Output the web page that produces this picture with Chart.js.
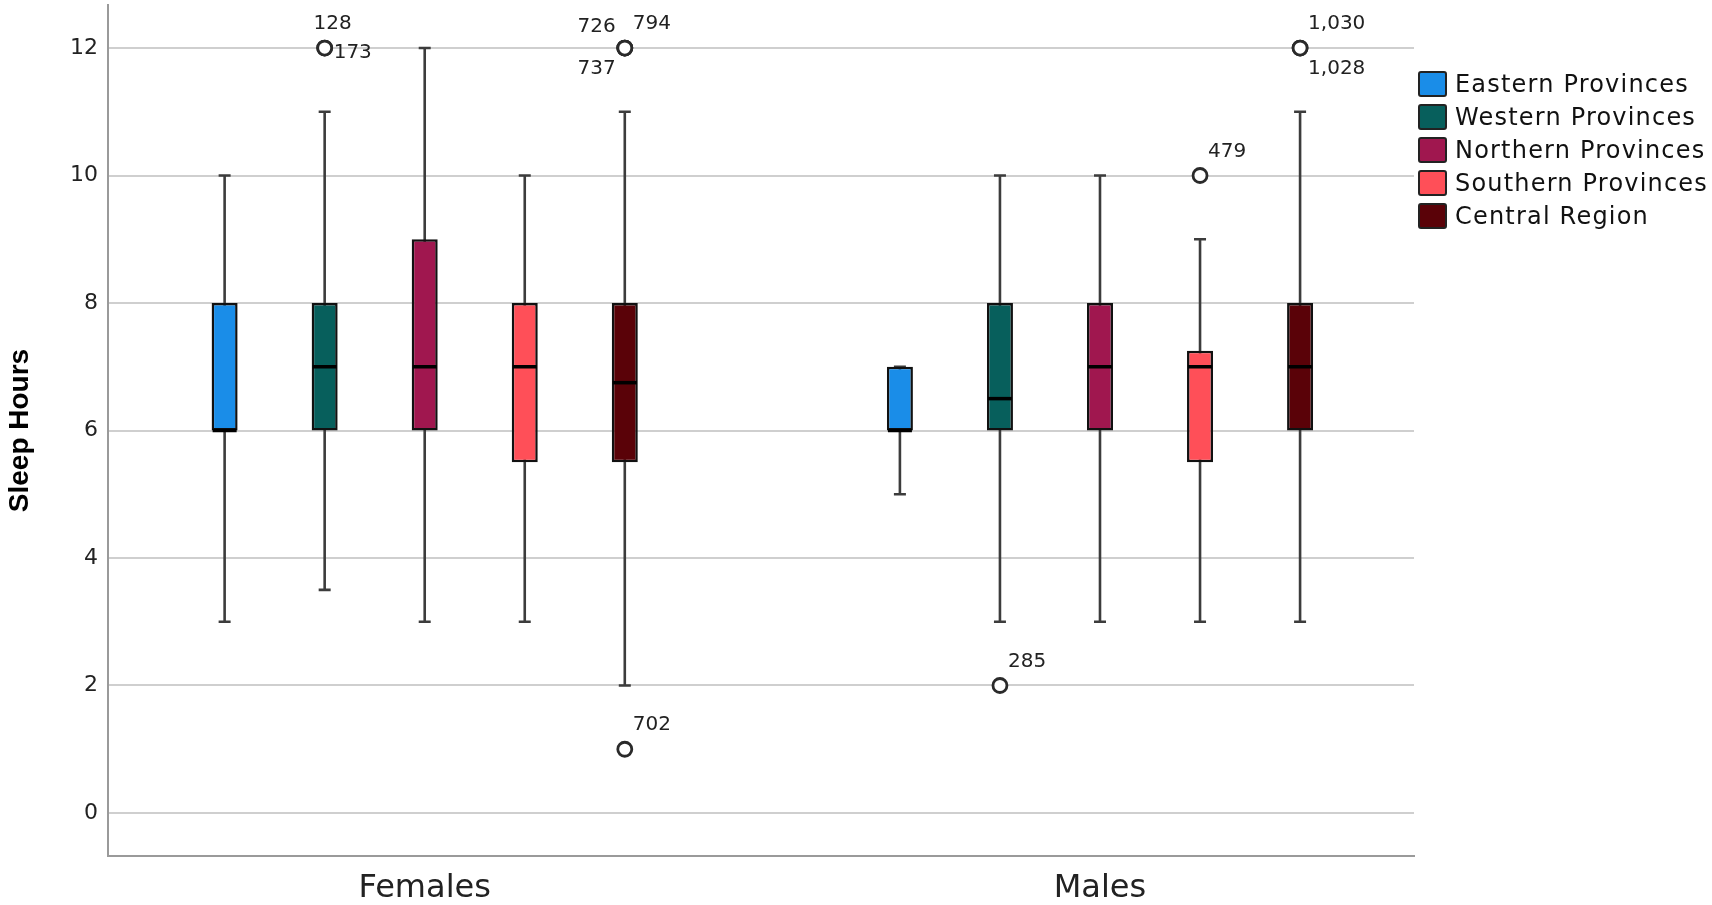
<!DOCTYPE html>
<html>
<head>
<meta charset="utf-8">
<script src="https://cdn.jsdelivr.net/npm/chart.js@4.4.1/dist/chart.umd.min.js"></script>
<style>
  html, body { margin: 0; padding: 0; background: #fff; }
</style>
</head>
<body>
<canvas id="chart" width="1712" height="905"></canvas>
<script>
// groups along the x axis
const groups = ['Females', 'Males'];
const regions = ['Eastern Provinces', 'Western Provinces', 'Northern Provinces', 'Southern Provinces', 'Central Region'];
const regionColors = ['#1a8de8', '#075f5c', '#a0174f', '#ff4f58', '#5a0208'];

// box plot stats, one row per region: [Females, Males]
const whiskerLow  = [[3, 5],   [3.5, 3], [3, 3], [3, 3],    [2, 3]];
const quart1      = [[6, 6],   [6, 6],   [6, 6], [5.5, 5.5], [5.5, 6]];
const medians     = [[6, 6],   [7, 6.5], [7, 7], [7, 7],    [6.75, 7]];
const quart3      = [[8, 7],   [8, 8],   [9, 8], [8, 7.25], [8, 8]];
const whiskerHigh = [[10, 7],  [11, 10], [12, 10], [10, 9], [11, 11]];

// outliers: [region index, group index, value, case label]
const outliers = [
  [1, 0, 12, '128'],
  [1, 0, 12, '173'],
  [4, 0, 12, '726'],
  [4, 0, 12, '794'],
  [4, 0, 12, '737'],
  [4, 0, 1, '702'],
  [1, 1, 2, '285'],
  [3, 1, 10, '479'],
  [4, 1, 12, '1,030'],
  [4, 1, 12, '1,028']
];
// where each case label sits next to its circle
const labelSpots = ['n', 'e', 'nw', 'ne', 'sw', 'ne', 'ne', 'ne', 'ne', 'se'];

const yTicks = [0, 2, 4, 6, 8, 10, 12];

const spotOffsets = {
  n:  { dx: 8,  dy: -24, align: 'center' },
  e:  { dx: 9,  dy: 5,   align: 'left' },
  ne: { dx: 8,  dy: -24, align: 'left' },
  se: { dx: 8,  dy: 21,  align: 'left' },
  nw: { dx: -9, dy: -21, align: 'right' },
  sw: { dx: -9, dy: 21,  align: 'right' }
};

const boxExtras = {
  id: 'boxExtras',
  beforeDatasetsDraw(chart) {
    const { ctx } = chart;
    const y = chart.scales.y;
    ctx.save();
    ctx.strokeStyle = '#3c3c3c';
    ctx.lineWidth = 2.6;
    regions.forEach((r, i) => {
      chart.getDatasetMeta(i).data.forEach((bar, g) => {
        const lo = y.getPixelForValue(whiskerLow[i][g]);
        const hi = y.getPixelForValue(whiskerHigh[i][g]);
        ctx.beginPath();
        ctx.moveTo(bar.x, lo); ctx.lineTo(bar.x, hi);
        ctx.moveTo(bar.x - 6, lo); ctx.lineTo(bar.x + 6, lo);
        ctx.moveTo(bar.x - 6, hi); ctx.lineTo(bar.x + 6, hi);
        ctx.stroke();
      });
    });
    ctx.restore();
  },
  afterDatasetsDraw(chart) {
    const { ctx } = chart;
    const y = chart.scales.y;
    ctx.save();
    // medians
    ctx.strokeStyle = '#000';
    ctx.lineWidth = 3.5;
    regions.forEach((r, i) => {
      chart.getDatasetMeta(i).data.forEach((bar, g) => {
        const m = y.getPixelForValue(medians[i][g]);
        ctx.beginPath();
        ctx.moveTo(bar.x - bar.width / 2 + 1, m);
        ctx.lineTo(bar.x + bar.width / 2 - 1, m);
        ctx.stroke();
      });
    });
    // outliers
    ctx.font = '20px "DejaVu Sans"';
    ctx.textBaseline = 'middle';
    outliers.forEach(o => {
      const bar = chart.getDatasetMeta(o[0]).data[o[1]];
      const cx = bar.x, cy = y.getPixelForValue(o[2]);
      ctx.beginPath();
      ctx.arc(cx, cy, 7, 0, Math.PI * 2);
      ctx.fillStyle = '#fff';
      ctx.fill();
      ctx.strokeStyle = '#2a2a2a';
      ctx.lineWidth = 2.8;
      ctx.stroke();
    });
    outliers.forEach((o, k) => {
      const bar = chart.getDatasetMeta(o[0]).data[o[1]];
      const cx = bar.x, cy = y.getPixelForValue(o[2]);
      const s = spotOffsets[labelSpots[k]];
      ctx.fillStyle = '#222';
      ctx.textAlign = s.align;
      ctx.fillText(o[3], cx + s.dx, cy + s.dy);
    });
    ctx.restore();
  },
  afterDraw(chart) {
    // legend on the right
    const { ctx } = chart;
    ctx.save();
    ctx.font = '24px "DejaVu Sans"';
    ctx.letterSpacing = '1.2px';
    ctx.textAlign = 'left';
    ctx.textBaseline = 'middle';
    chart.data.datasets.forEach((ds, i) => {
      const top = 72 + i * 33;
      ctx.fillStyle = ds.backgroundColor;
      ctx.strokeStyle = '#222';
      ctx.lineWidth = 2;
      ctx.beginPath();
      ctx.roundRect(1419, top, 27, 24, 2);
      ctx.fill();
      ctx.stroke();
      ctx.fillStyle = '#111';
      ctx.fillText(ds.label, 1455, top + 14);
    });
    ctx.restore();
  }
};

const datasets = regions.map((name, i) => ({
  label: name,
  data: groups.map((g, gi) => ({ x: gi, y: [quart1[i][gi], quart3[i][gi]] })),
  backgroundColor: regionColors[i],
  borderColor: '#111',
  borderWidth: 2.5,
  borderSkipped: false,
  categoryPercentage: 500 / 675,
  barPercentage: 0.26
}));

new Chart(document.getElementById('chart'), {
  type: 'bar',
  data: { datasets },
  plugins: [boxExtras],
  options: {
    responsive: false,
    animation: false,
    layout: { padding: { top: 5, right: 298, bottom: 0, left: 0 } },
    plugins: { legend: { display: false }, tooltip: { enabled: false } },
    scales: {
      x: {
        type: 'linear',
        offset: false,
        min: -0.469,
        max: 1.465,
        afterBuildTicks: s => { s.ticks = groups.map((g, i) => ({ value: i })); },
        afterFit: s => { s.height = 49; s.paddingLeft = 0; s.paddingRight = 0; },
        grid: { display: false, drawTicks: false },
        border: { display: true, color: '#9a9a9a', width: 2 },
        ticks: {
          padding: 13,
          maxRotation: 0,
          autoSkip: false,
          color: '#222',
          font: { family: 'DejaVu Sans', size: 32 },
          callback: v => groups[v]
        }
      },
      y: {
        min: -0.675,
        max: 12.675,
        afterBuildTicks: s => { s.ticks = yTicks.map(v => ({ value: v })); },
        afterFit: s => { s.width = 108; s.paddingTop = 0; s.paddingBottom = 0; },
        grid: { color: '#cfcfcf', lineWidth: 2, drawTicks: false },
        border: { display: true, color: '#9a9a9a', width: 2 },
        ticks: {
          padding: 10,
          color: '#222',
          font: { family: 'DejaVu Sans', size: 22 }
        },
        title: {
          display: true,
          text: 'Sleep Hours',
          color: '#000',
          padding: { top: 3, bottom: 0 },
          font: { family: 'Liberation Sans', size: 28, weight: 'bold' }
        }
      }
    }
  }
});
</script>
</body>
</html>
